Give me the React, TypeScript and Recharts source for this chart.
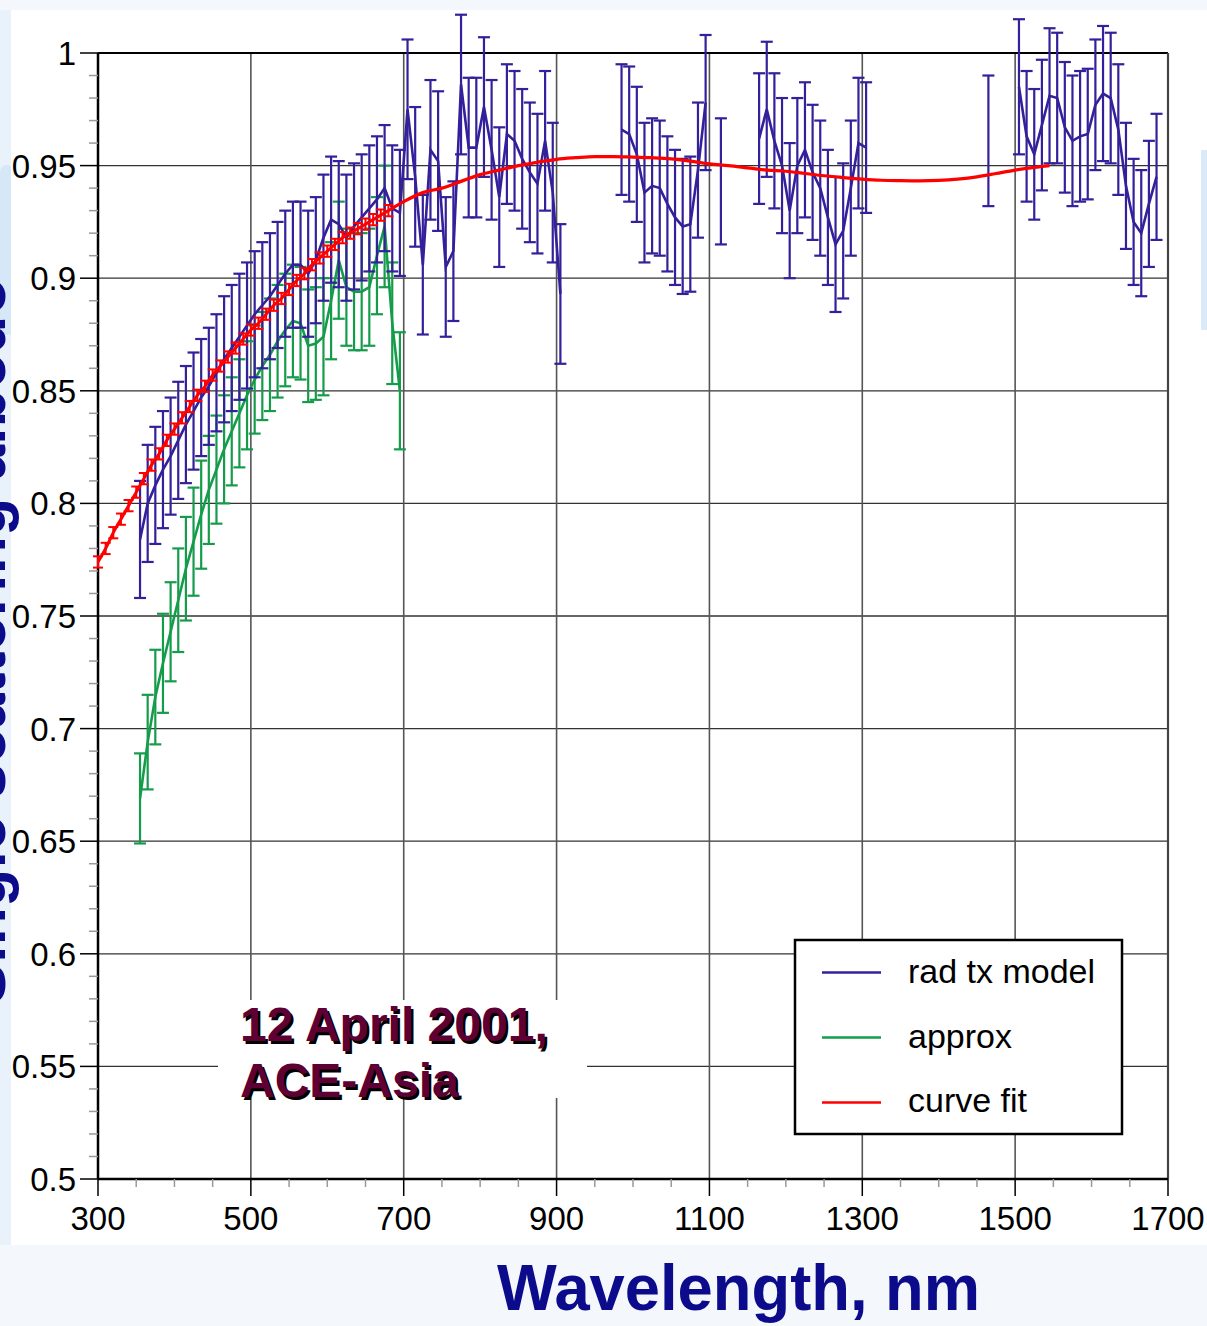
import React from 'react';
import { ComposedChart, Line, Scatter, XAxis, YAxis, ErrorBar, ReferenceLine } from 'recharts';

const FONT = '"Liberation Sans", Arial, Helvetica, sans-serif';
const BLUE = '#33209a';
const GREEN = '#159c4b';
const RED = '#ff0000';
const TITLE = '#0b0b8b';

// ---- ticks ----
const xMajorTicks = [300, 500, 700, 900, 1100, 1300, 1500, 1700];
const xMajorLabels = ['300', '500', '700', '900', '1100', '1300', '1500', '1700'];
const xMinorTicks = [350, 400, 450, 550, 600, 650, 750, 800, 850, 950, 1000, 1050, 1150, 1200, 1250, 1350, 1400, 1450, 1550, 1600, 1650];
const yMajorTicks = [0.5, 0.55, 0.6, 0.65, 0.7, 0.75, 0.8, 0.85, 0.9, 0.95, 1];
const yMajorLabels = ['0.5', '0.55', '0.6', '0.65', '0.7', '0.75', '0.8', '0.85', '0.9', '0.95', '1'];
const yMinorTicks = [
  0.51, 0.52, 0.53, 0.54, 0.56, 0.57, 0.58, 0.59, 0.61, 0.62, 0.63, 0.64, 0.66, 0.67, 0.68, 0.69,
  0.71, 0.72, 0.73, 0.74, 0.76, 0.77, 0.78, 0.79, 0.81, 0.82, 0.83, 0.84, 0.86, 0.87, 0.88, 0.89,
  0.91, 0.92, 0.93, 0.94, 0.96, 0.97, 0.98, 0.99,
];
const xGrid = [500, 700, 900, 1100, 1300, 1500];
const yGrid = [0.55, 0.6, 0.65, 0.7, 0.75, 0.8, 0.85, 0.9, 0.95];

// ---- rad tx model (blue) ----
const blueSeg1Wl = [355, 365, 375, 385, 395, 405, 415, 425, 435, 445, 455, 465, 475, 485, 495, 505, 515, 525, 535, 545, 555, 565, 575, 585, 595, 605, 615, 625, 635, 645, 655, 665, 675, 685, 695, 705, 715, 725, 735, 745, 755, 765, 775, 785, 795, 805, 815, 825, 835, 845, 855, 865, 875, 885, 895, 905];
const blueSeg1Val = [0.784, 0.8, 0.808, 0.815, 0.821, 0.828, 0.835, 0.841, 0.847, 0.852, 0.858, 0.864, 0.869, 0.874, 0.879, 0.884, 0.888, 0.892, 0.897, 0.902, 0.906, 0.906, 0.902, 0.908, 0.918, 0.926, 0.924, 0.918, 0.923, 0.927, 0.931, 0.935, 0.94, 0.931, 0.929, 0.975, 0.945, 0.906, 0.957, 0.952, 0.905, 0.912, 0.986, 0.958, 0.958, 0.976, 0.957, 0.936, 0.964, 0.961, 0.953, 0.947, 0.942, 0.961, 0.938, 0.893];
const blueSeg1Err = [0.026, 0.026, 0.026, 0.026, 0.026, 0.026, 0.026, 0.026, 0.026, 0.026, 0.026, 0.028, 0.028, 0.028, 0.028, 0.028, 0.028, 0.028, 0.028, 0.028, 0.028, 0.028, 0.028, 0.028, 0.028, 0.028, 0.028, 0.028, 0.028, 0.028, 0.028, 0.028, 0.028, 0.028, 0.028, 0.031, 0.031, 0.031, 0.031, 0.031, 0.031, 0.031, 0.031, 0.031, 0.031, 0.031, 0.031, 0.031, 0.031, 0.031, 0.031, 0.031, 0.031, 0.031, 0.031, 0.031];

const blueSeg2Wl = [985, 995, 1005, 1015, 1025, 1035, 1045, 1055, 1065, 1075, 1085, 1095];
const blueSeg2Val = [0.966, 0.964, 0.955, 0.938, 0.941, 0.94, 0.933, 0.927, 0.923, 0.924, 0.948, 0.978];
const blueSeg2Err = [0.029, 0.03, 0.03, 0.031, 0.03, 0.03, 0.03, 0.03, 0.03, 0.03, 0.03, 0.03];

const blueLoneWl = [1115, 1465];
const blueLoneVal = [0.943, 0.961];
const blueLoneErr = [0.028, 0.029];

const blueSeg3Wl = [1165, 1175, 1185, 1195, 1205, 1215, 1225, 1235, 1245, 1255, 1265, 1275, 1285, 1295, 1305];
const blueSeg3Val = [0.962, 0.975, 0.961, 0.95, 0.93, 0.95, 0.957, 0.947, 0.94, 0.927, 0.915, 0.921, 0.94, 0.96, 0.958];
const blueSeg3Err = [0.029, 0.03, 0.03, 0.03, 0.03, 0.03, 0.03, 0.03, 0.03, 0.03, 0.03, 0.03, 0.03, 0.029, 0.029];

const blueSeg4Wl = [1505, 1515, 1525, 1535, 1545, 1555, 1565, 1575, 1585, 1595, 1605, 1615, 1625, 1635, 1645, 1655, 1665, 1675, 1685];
const blueSeg4Val = [0.985, 0.963, 0.955, 0.968, 0.981, 0.98, 0.967, 0.961, 0.963, 0.964, 0.977, 0.982, 0.98, 0.966, 0.941, 0.925, 0.92, 0.933, 0.945];
const blueSeg4Err = [0.03, 0.029, 0.029, 0.029, 0.03, 0.029, 0.029, 0.029, 0.029, 0.029, 0.029, 0.03, 0.029, 0.029, 0.028, 0.028, 0.028, 0.028, 0.028];

// ---- approx (green) ----
const greenWl = [355, 365, 375, 385, 395, 405, 415, 425, 435, 445, 455, 465, 475, 485, 495, 505, 515, 525, 535, 545, 555, 565, 575, 585, 595, 605, 615, 625, 635, 645, 655, 665, 675, 685, 695];
const greenVal = [0.669, 0.694, 0.714, 0.729, 0.743, 0.757, 0.771, 0.783, 0.795, 0.806, 0.815, 0.824, 0.832, 0.84, 0.848, 0.855, 0.861, 0.866, 0.872, 0.877, 0.881, 0.88, 0.87, 0.871, 0.874, 0.89, 0.908, 0.896, 0.894, 0.894, 0.896, 0.91, 0.923, 0.88, 0.85];
const greenErr = [0.02, 0.021, 0.021, 0.022, 0.022, 0.023, 0.023, 0.024, 0.024, 0.024, 0.024, 0.024, 0.024, 0.024, 0.024, 0.024, 0.024, 0.025, 0.025, 0.025, 0.025, 0.025, 0.025, 0.025, 0.026, 0.026, 0.026, 0.026, 0.026, 0.026, 0.026, 0.026, 0.027, 0.027, 0.026];

// ---- curve fit (red) ----
const redAWl = [300, 310, 320, 330, 340, 350, 360, 370, 380, 390, 400, 410, 420, 430, 440, 450, 460, 470, 480, 490, 500, 510, 520, 530, 540, 550, 560, 570, 580, 590, 600, 610, 620, 630, 640, 650, 660, 670, 680];
const redAVal = [0.774, 0.78, 0.787, 0.793, 0.799, 0.805, 0.811, 0.817, 0.822, 0.828, 0.833, 0.838, 0.843, 0.848, 0.852, 0.857, 0.861, 0.865, 0.869, 0.873, 0.877, 0.88, 0.884, 0.888, 0.891, 0.895, 0.899, 0.902, 0.906, 0.909, 0.912, 0.915, 0.918, 0.92, 0.922, 0.924, 0.926, 0.928, 0.93];
const redAErr = 0.0025;
const redBWl = [680, 700, 725, 750, 775, 800, 825, 850, 875, 900, 925, 950, 975, 1000, 1025, 1050, 1075, 1100, 1125, 1150, 1175, 1200, 1225, 1250, 1275, 1300, 1325, 1350, 1375, 1400, 1425, 1450, 1475, 1500, 1525, 1545];
const redBVal = [0.93, 0.934, 0.938, 0.94, 0.943, 0.946, 0.948, 0.95, 0.9515, 0.9528, 0.9535, 0.954, 0.954, 0.9538, 0.9535, 0.953, 0.952, 0.9508, 0.95, 0.949, 0.948, 0.9475, 0.9465, 0.9455, 0.9447, 0.944, 0.9435, 0.9433, 0.9432, 0.9434, 0.944, 0.945, 0.9465, 0.948, 0.9492, 0.95];

type Pt = { x: number; y: number; e?: number };
const build = (wl: number[], val: number[], err?: number[] | number): Pt[] =>
  wl.map((x, i) => ({
    x,
    y: val[i],
    e: err === undefined ? undefined : Array.isArray(err) ? err[i] : err,
  }));

const blueSegments = [
  build(blueSeg1Wl, blueSeg1Val, blueSeg1Err),
  build(blueSeg2Wl, blueSeg2Val, blueSeg2Err),
  build(blueSeg3Wl, blueSeg3Val, blueSeg3Err),
  build(blueSeg4Wl, blueSeg4Val, blueSeg4Err),
];
const blueLoneData = build(blueLoneWl, blueLoneVal, blueLoneErr);
const greenData = build(greenWl, greenVal, greenErr);
const redAData = build(redAWl, redAVal, redAErr);
const redBData = build(redBWl, redBVal);

const xTicks = [...xMajorTicks, ...xMinorTicks].sort((a, b) => a - b);
const yTicks = [...yMajorTicks, ...yMinorTicks].sort((a, b) => a - b);

const XTick = (props: any) => {
  const { x, y, payload } = props;
  const idx = xMajorTicks.indexOf(payload.value);
  const major = idx >= 0;
  return (
    <g>
      <line x1={x} y1={y} x2={x} y2={y + (major ? 17 : 8)} stroke={major ? '#000' : '#999'} strokeWidth={1.5} />
      {major && (
        <text x={x} y={y + 51} textAnchor="middle" fontSize={33} fontFamily={FONT} fill="#000">
          {xMajorLabels[idx]}
        </text>
      )}
    </g>
  );
};

const YTick = (props: any) => {
  const { x, y, payload } = props;
  const idx = yMajorTicks.indexOf(payload.value);
  const major = idx >= 0;
  return (
    <g>
      <line x1={x - (major ? 18 : 9)} y1={y} x2={x} y2={y} stroke={major ? '#000' : '#999'} strokeWidth={1.5} />
      {major && (
        <text x={x - 22} y={y + 12} textAnchor="end" fontSize={33} fontFamily={FONT} fill="#000">
          {yMajorLabels[idx]}
        </text>
      )}
    </g>
  );
};

const NoShape = () => <g />;

export default function App() {
  return (
    <div style={{ position: 'absolute', left: 0, top: 0, width: 1207, height: 1326, background: '#f4f8fc', overflow: 'hidden' }}>
      <div style={{ position: 'absolute', left: 0, top: 10, width: 12, height: 1235, background: '#e9f2fb' }} />
      <div style={{ position: 'absolute', left: 0, top: 165, width: 14, height: 170, background: '#d6e7f7', borderRadius: 8 }} />
      <div style={{ position: 'absolute', left: 11, top: 10, width: 1196, height: 1235, background: '#ffffff' }} />
      <div style={{ position: 'absolute', left: 1201, top: 150, width: 6, height: 180, background: '#dbeaf8' }} />
      <div style={{ position: 'absolute', left: 0, top: 0 }}>
        <ComposedChart width={1207} height={1326} margin={{ top: 4, right: 39, bottom: 97, left: 18 }}>
          <XAxis
            type="number"
            dataKey="x"
            domain={[300, 1700]}
            allowDataOverflow
            ticks={xTicks}
            interval={0}
            tickSize={0}
            tickMargin={0}
            tickLine={false}
            axisLine={{ stroke: '#000', strokeWidth: 2.5 }}
            tick={(p: any) => <XTick {...p} />}
            height={50}
          />
          <YAxis
            type="number"
            dataKey="y"
            domain={[0.5, 1.02176]}
            allowDataOverflow
            ticks={yTicks}
            interval={0}
            tickSize={0}
            tickMargin={0}
            tickLine={false}
            axisLine={false}
            tick={(p: any) => <YTick {...p} />}
            width={80}
          />
          {yGrid.map((v) => (
            <ReferenceLine key={'hy' + v} y={v} stroke="#333" strokeWidth={1.3} />
          ))}
          {xGrid.map((v) => (
            <ReferenceLine key={'vx' + v} segment={[{ x: v, y: 0.5 }, { x: v, y: 1 }]} stroke="#555" strokeWidth={1.6} />
          ))}
          <ReferenceLine y={1} stroke="#000" strokeWidth={2} />
          <ReferenceLine segment={[{ x: 300, y: 0.5 }, { x: 300, y: 1 }]} stroke="#000" strokeWidth={2.5} />
          <ReferenceLine segment={[{ x: 1700, y: 0.5 }, { x: 1700, y: 1 }]} stroke="#444" strokeWidth={2.2} />

          <Line data={greenData} dataKey="y" type="linear" stroke={GREEN} strokeWidth={2.6} dot={false} isAnimationActive={false} legendType="none">
            <ErrorBar dataKey="e" direction="y" width={6} stroke={GREEN} strokeWidth={2.2} isAnimationActive={false} />
          </Line>
          {blueSegments.map((seg, i) => (
            <Line key={'b' + i} data={seg} dataKey="y" type="linear" stroke={BLUE} strokeWidth={2.6} dot={false} isAnimationActive={false} legendType="none">
              <ErrorBar dataKey="e" direction="y" width={6} stroke={BLUE} strokeWidth={2.2} isAnimationActive={false} />
            </Line>
          ))}
          <Scatter data={blueLoneData} dataKey="y" shape={NoShape} isAnimationActive={false} legendType="none">
            <ErrorBar dataKey="e" direction="y" width={6} stroke={BLUE} strokeWidth={2.2} isAnimationActive={false} />
          </Scatter>
          <Line data={redAData} dataKey="y" type="monotone" stroke={RED} strokeWidth={3} dot={false} isAnimationActive={false} legendType="none">
            <ErrorBar dataKey="e" direction="y" width={5} stroke={RED} strokeWidth={2} isAnimationActive={false} />
          </Line>
          <Line data={redBData} dataKey="y" type="monotone" stroke={RED} strokeWidth={3.2} dot={false} isAnimationActive={false} legendType="none" />
        </ComposedChart>
      </div>
      <svg width={1207} height={1326} style={{ position: 'absolute', left: 0, top: 0, pointerEvents: 'none' }}>
        {/* annotation */}
        <rect x={218} y={1000} width={369} height={98} fill="#fff" />
        <g fontFamily={FONT} fontWeight="bold" fontSize={48}>
          <text x={242.5} y={1043.5} fill="#000">12 April 2001,</text>
          <text x={240} y={1041} fill="#5e0033">12 April 2001,</text>
          <text x={242.5} y={1099.5} fill="#000">ACE-Asia</text>
          <text x={240} y={1097} fill="#5e0033">ACE-Asia</text>
        </g>
        {/* legend */}
        <rect x={795} y={940} width={327} height={194} fill="#fff" stroke="#000" strokeWidth={2.5} />
        <line x1={822} y1={972.5} x2={881} y2={972.5} stroke={BLUE} strokeWidth={2.5} />
        <line x1={822} y1={1037.5} x2={881} y2={1037.5} stroke={GREEN} strokeWidth={2.5} />
        <line x1={822} y1={1102.5} x2={881} y2={1102.5} stroke={RED} strokeWidth={2.5} />
        <g fontFamily={FONT} fontSize={34} fill="#000">
          <text x={908} y={983}>rad tx model</text>
          <text x={908} y={1048}>approx</text>
          <text x={908} y={1112}>curve fit</text>
        </g>
        {/* axis titles */}
        <text x={497} y={1310} fontFamily={FONT} fontWeight="bold" fontSize={64} fill={TITLE} textLength={483} lengthAdjust="spacingAndGlyphs">
          Wavelength, nm
        </text>
        <text
          transform="translate(5, 641) rotate(-90)"
          x={0}
          y={0}
          textAnchor="middle"
          fontFamily={FONT}
          fontWeight="bold"
          fontSize={66}
          fill={TITLE}
          textLength={728}
          lengthAdjust="spacingAndGlyphs"
        >
          Single scattering albedo
        </text>
      </svg>
    </div>
  );
}
